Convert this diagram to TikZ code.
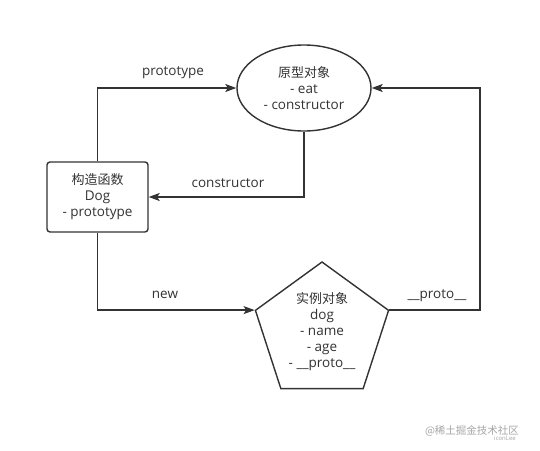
\documentclass[tikz,border=0pt]{standalone}
\usepackage{fontspec}
\setmainfont{Open Sans}
\newfontfamily\cjk{Noto Sans CJK SC}
\usetikzlibrary{shapes.geometric,arrows.meta}
\definecolor{ink}{HTML}{333333}
\newcommand{\cj}[1]{{\cjk\fontsize{13}{16}\selectfont #1}}
\tikzset{
  shapebox/.style={draw=ink, line width=1.4pt, align=center, text=ink, inner sep=0pt,
    font=\fontsize{13.5}{16}\selectfont},
  conn/.style={draw=ink, line width=1.4pt, -{Stealth[length=11pt,width=8pt,inset=2.5pt]}},
  lbl/.style={text=ink, font=\fontsize{13.5}{16}\selectfont, inner sep=0pt},
  wm/.style={text=black!35, inner sep=0pt}
}
\begin{document}
\begin{tikzpicture}[x=1pt,y=-1pt]
\useasboundingbox[fill=white] (0,0) rectangle (540,450);
\node[shapebox, ellipse, minimum width=134pt, minimum height=86pt] (proto) at (304,88)
  {\cj{原型对象}\\- eat\\- constructor};
\node[shapebox, rectangle, rounded corners=3pt, minimum width=101pt, minimum height=70pt] (ctor) at (97.5,197)
  {\cj{构造函数}\\Dog\\- prototype};
\node[shapebox, regular polygon, regular polygon sides=5, minimum size=140pt] (inst) at (322,332)
  {\cj{实例对象}\\dog\\- name\\- age\\- \_\_proto\_\_};
\coordinate (pr) at (480,0);
\draw[conn] (ctor.north) |- (proto.west);
\draw[conn] (proto.south) |- (ctor.east);
\draw[conn] (ctor.south) |- (inst.corner 2);
\draw[conn] (inst.corner 5) -- (inst.corner 5 -| pr) |- (proto.east);
\node[lbl] (lp) at (173,73) {prototype};
\node[lbl] (lc) at (228,183) {constructor};
\node[lbl] (ln) at (165,295) {new};
\node[lbl] (lpr) at (437,296) {\_\_proto\_\_};
\node[wm, font=\cjk\fontsize{10.5}{12}\selectfont] (w1) at (472,431) {@稀土掘金技术社区};
\node[wm, font=\fontsize{6}{7}\selectfont] (w2) at (505,438) {iconLee};
\end{tikzpicture}
\end{document}
